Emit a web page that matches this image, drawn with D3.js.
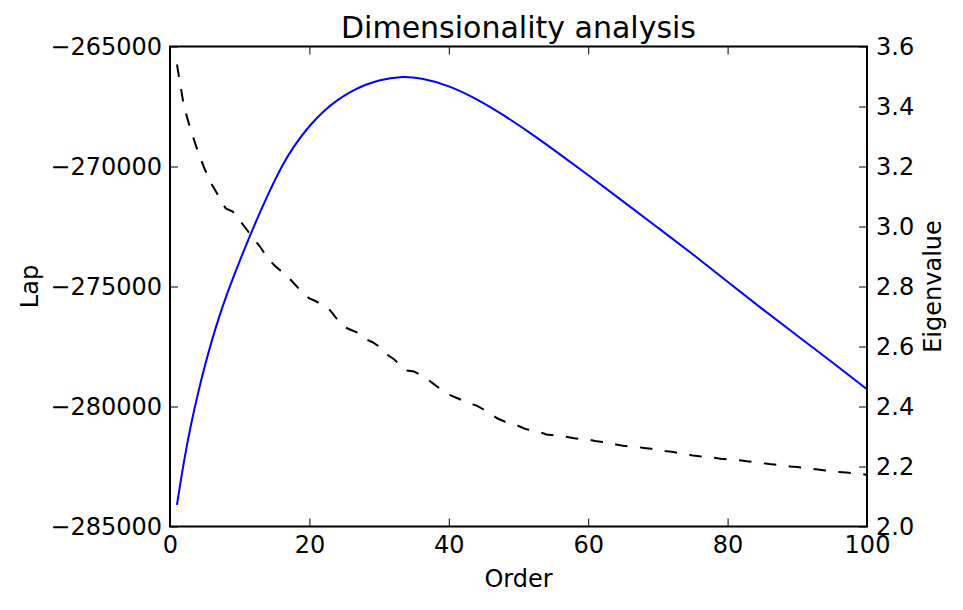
<!DOCTYPE html>
<html>
<head>
<meta charset="utf-8">
<script src="https://cdn.jsdelivr.net/npm/d3@7"></script>
<style>
  html, body { margin: 0; padding: 0; background: #fff; }
  svg { display: block; font-family: "DejaVu Sans", sans-serif; }
</style>
</head>
<body>
<svg id="chart" width="963" height="610"></svg>
<script>
// ---- data ----
const title = "Dimensionality analysis";
const xLabel = "Order";
const yLeftLabel = "Lap";
const yRightLabel = "Eigenvalue";

const lapOrder = [1, 2, 3, 4, 5, 6, 7, 8, 9, 10, 12, 14, 16, 18, 20, 22, 24, 26, 28, 30, 33, 36, 40, 44, 48, 52, 56, 60, 65, 70, 75, 80, 85, 90, 95, 100];
const lapValue = [-284100, -282250, -280750, -279450, -278300, -277250, -276300, -275450, -274680, -273930, -272500, -271200, -269980, -269050, -268300, -267690, -267230, -266870, -266590, -266400, -266240, -266300, -266620, -267180, -267880, -268660, -269500, -270360, -271450, -272550, -273650, -274800, -275950, -277050, -278150, -279280];

const eigOrder = d3.range(1, 101);
const eigValue = [
  3.54, 3.40, 3.32, 3.25, 3.19, 3.14, 3.10, 3.06, 3.05, 3.02,
  2.99, 2.96, 2.93, 2.895, 2.87, 2.85, 2.83, 2.805, 2.78, 2.76,
  2.75, 2.735, 2.72, 2.69, 2.665, 2.655, 2.645, 2.625, 2.615, 2.60,
  2.575, 2.56, 2.54, 2.52, 2.517, 2.505, 2.49, 2.472, 2.455, 2.44,
  2.43, 2.42, 2.41, 2.403, 2.39, 2.375, 2.36, 2.35, 2.345, 2.335,
  2.325, 2.32, 2.315, 2.307, 2.304, 2.302, 2.298, 2.294, 2.292, 2.29,
  2.285, 2.282, 2.28, 2.273, 2.269, 2.267, 2.265, 2.262, 2.259, 2.256,
  2.252, 2.249, 2.245, 2.241, 2.237, 2.234, 2.232, 2.229, 2.226, 2.224,
  2.222, 2.22, 2.217, 2.214, 2.211, 2.208, 2.206, 2.203, 2.2, 2.198,
  2.195, 2.193, 2.19, 2.187, 2.184, 2.182, 2.18, 2.178, 2.176, 2.172
];

const xTicks = [0, 20, 40, 60, 80, 100];
const yLeftTicks = [-285000, -280000, -275000, -270000, -265000];
const yRightTicks = [2.0, 2.2, 2.4, 2.6, 2.8, 3.0, 3.2, 3.4, 3.6];

// ---- layout ----
const L = 170, R = 867, T = 46.5, B = 526.5;
const fs = 24;

const svg = d3.select("#chart");
const x = d3.scaleLinear().domain([0, 100]).range([L, R]);
const yL = d3.scaleLinear().domain([-285000, -265000]).range([B, T]);
const yR = d3.scaleLinear().domain([2.0, 3.6]).range([B, T]);

// lines
const lapLine = d3.line()
  .x((d, i) => x(lapOrder[i]))
  .y(d => yL(d))
  .curve(d3.curveBasis);
svg.append("path")
  .attr("d", lapLine(lapValue))
  .attr("fill", "none")
  .attr("stroke", "#0000ff")
  .attr("stroke-width", 2);

const eigLine = d3.line()
  .x((d, i) => x(eigOrder[i]))
  .y(d => yR(d));
svg.append("path")
  .attr("d", eigLine(eigValue))
  .attr("fill", "none")
  .attr("stroke", "#000")
  .attr("stroke-width", 2)
  .attr("stroke-dasharray", "12.5,12.5");

// axes
function styleAxis(g) {
  g.select(".domain").remove();
  g.selectAll(".tick line").attr("stroke", "#000").attr("stroke-width", 1);
  g.selectAll(".tick text").attr("fill", "#000")
    .style("font-family", "'DejaVu Sans', sans-serif").style("font-size", fs + "px");
}

svg.append("g").attr("transform", `translate(0,${B})`)
  .call(d3.axisBottom(x).tickValues(xTicks).tickFormat(d3.format("d")).tickSize(-8).tickPadding(9))
  .call(styleAxis);
svg.append("g").attr("transform", `translate(0,${T})`)
  .call(d3.axisTop(x).tickValues(xTicks).tickFormat("").tickSize(-8))
  .call(styleAxis);
svg.append("g").attr("transform", `translate(${L},0)`)
  .call(d3.axisLeft(yL).tickValues(yLeftTicks).tickFormat(d3.format("d")).tickSize(-8).tickPadding(8))
  .call(styleAxis);
svg.append("g").attr("transform", `translate(${R},0)`)
  .call(d3.axisRight(yR).tickValues(yRightTicks).tickFormat(d3.format(".1f")).tickSize(-8).tickPadding(9))
  .call(styleAxis);

// spines
svg.append("rect")
  .attr("x", L).attr("y", T)
  .attr("width", R - L).attr("height", B - T)
  .attr("fill", "none").attr("stroke", "#000").attr("stroke-width", 2);

// labels
svg.append("text")
  .attr("x", (L + R) / 2).attr("y", 38)
  .attr("text-anchor", "middle")
  .style("font-size", "30px")
  .text(title);

svg.append("text")
  .attr("x", (L + R) / 2).attr("y", 587)
  .attr("text-anchor", "middle")
  .style("font-size", fs + "px")
  .text(xLabel);

svg.append("text")
  .attr("transform", `translate(38,${(T + B) / 2}) rotate(-90)`)
  .attr("text-anchor", "middle")
  .style("font-size", fs + "px")
  .text(yLeftLabel);

svg.append("text")
  .attr("transform", `translate(941,${(T + B) / 2}) rotate(-90)`)
  .attr("text-anchor", "middle")
  .style("font-size", fs + "px")
  .text(yRightLabel);
</script>
</body>
</html>
